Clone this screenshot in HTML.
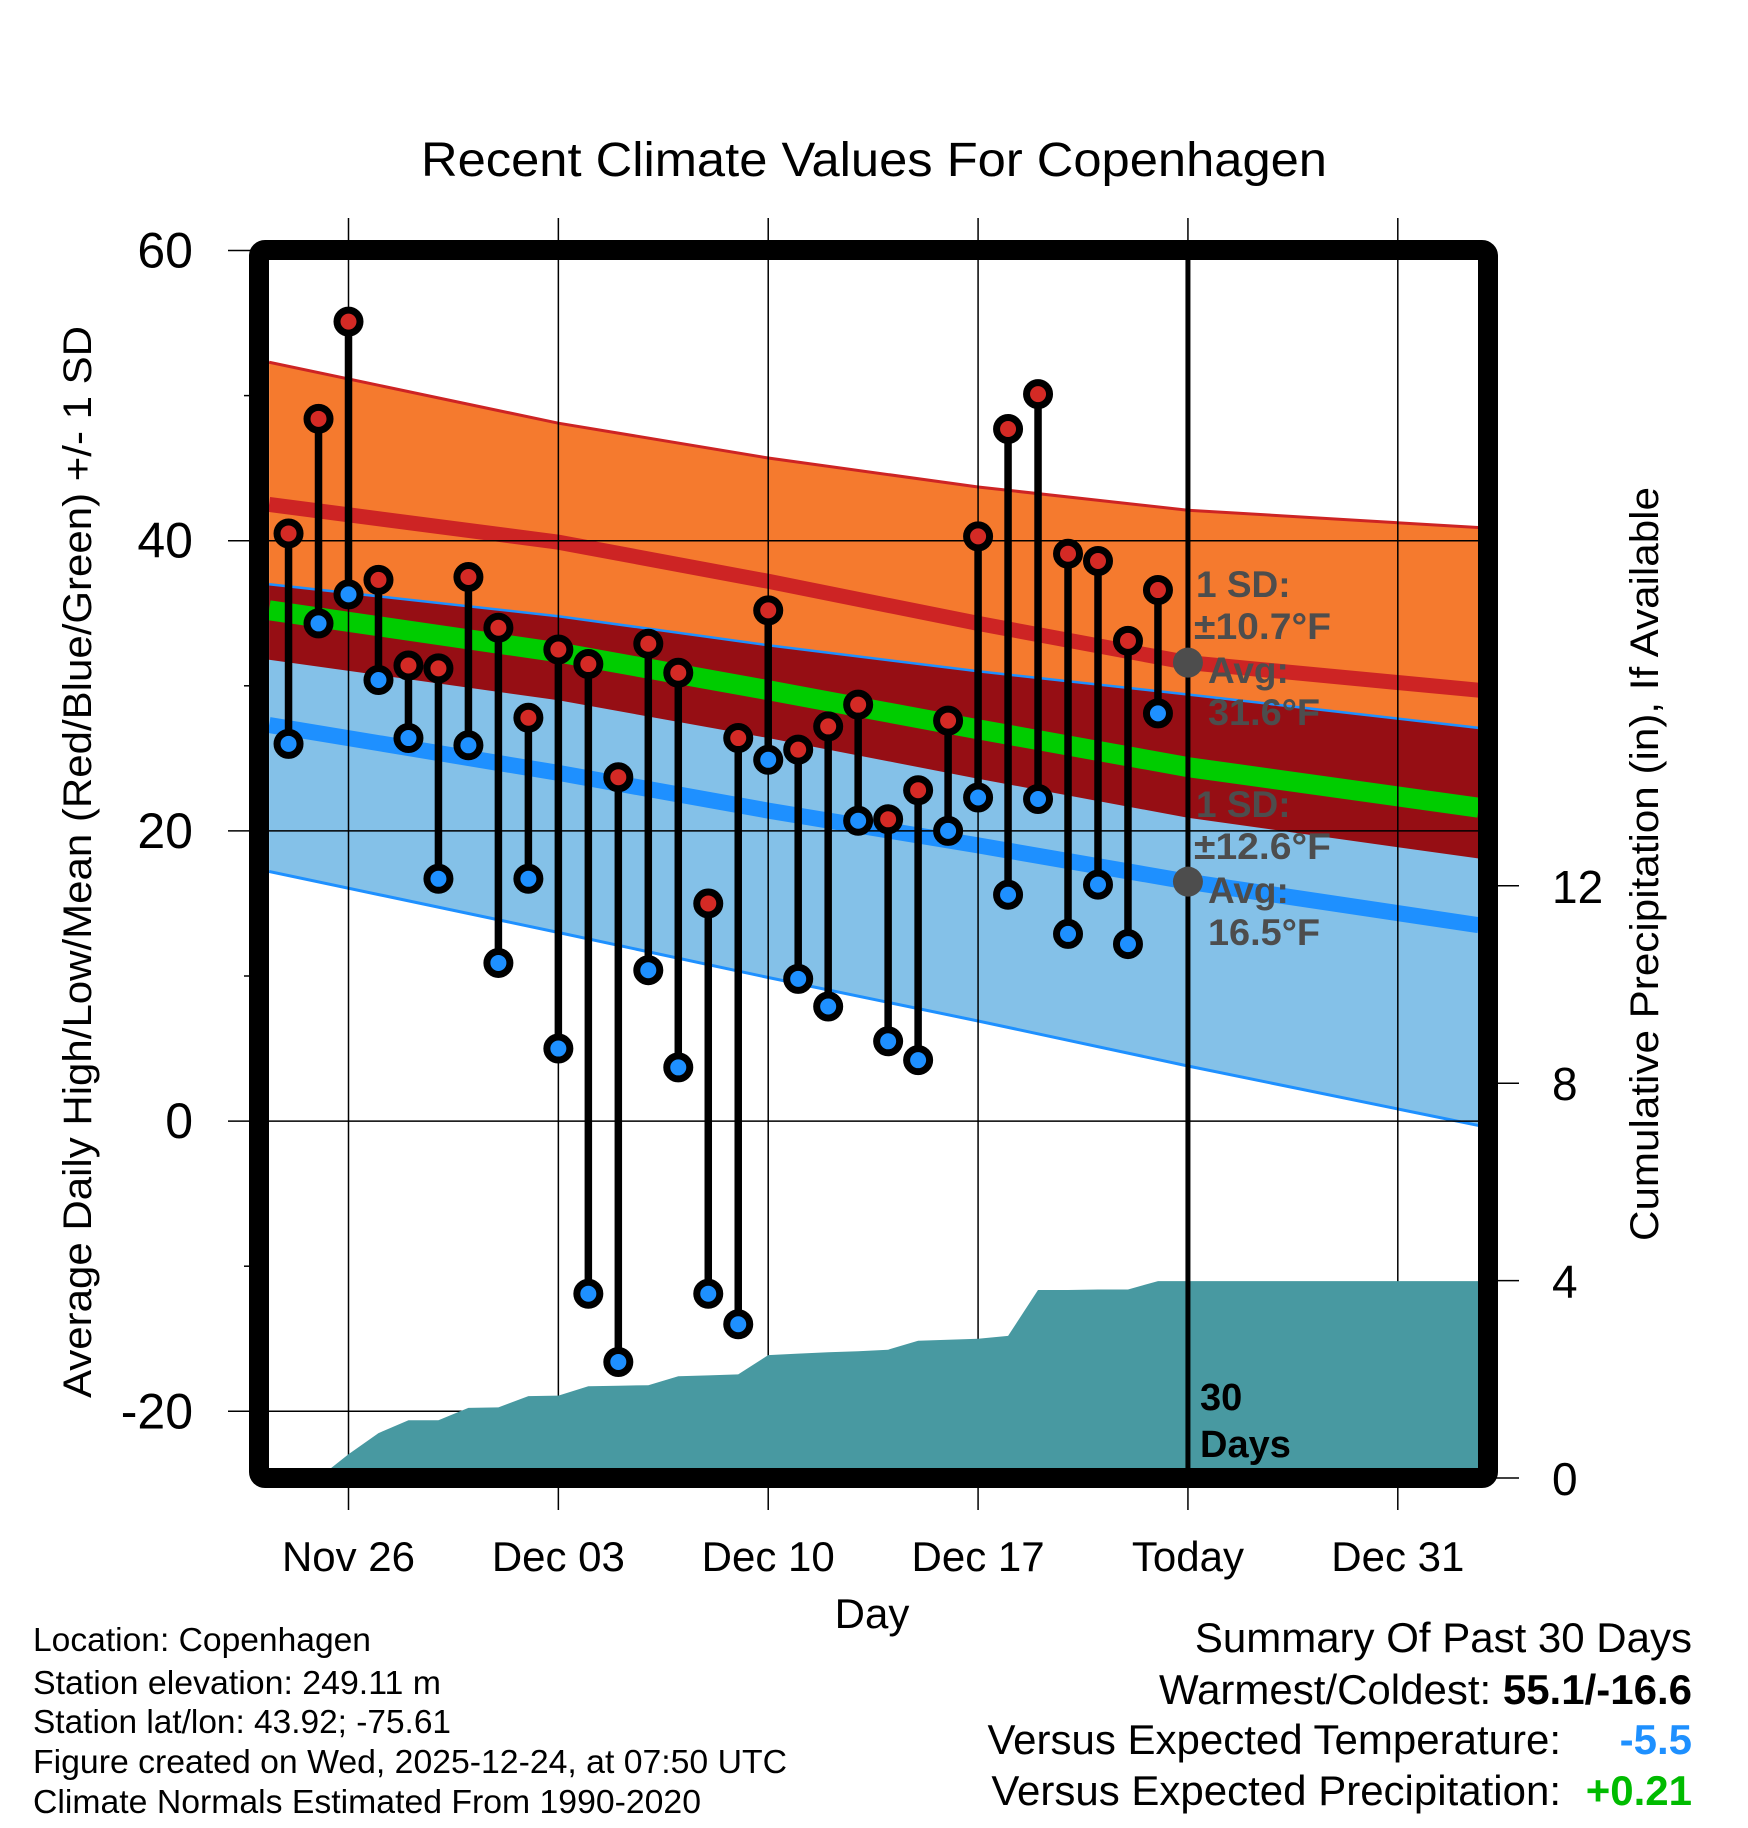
<!DOCTYPE html>
<html><head><meta charset="utf-8">
<style>
html,body{margin:0;padding:0;background:#fff;}
svg{display:block;font-family:"Liberation Sans",sans-serif;}
</style></head>
<body>
<svg id="chart" width="1748" height="1828" viewBox="0 0 1748 1828" xmlns="http://www.w3.org/2000/svg">
<defs><clipPath id="plotclip"><rect x="269" y="260" width="1209" height="1208"/></clipPath></defs>
<rect x="0" y="0" width="1748" height="1828" fill="#fff"/>
<g id="bands" clip-path="url(#plotclip)"></g>
<g id="grid"></g>
<g id="precip" clip-path="url(#plotclip)"></g>
<g id="today"></g>
<g id="marks"></g>
<rect x="259" y="250" width="1229" height="1228" fill="none" stroke="#000" stroke-width="20" rx="6"/>
<g id="axes"></g>
<text x="874" y="176" font-size="48" text-anchor="middle" textLength="906" lengthAdjust="spacingAndGlyphs">Recent Climate Values For Copenhagen</text>
<text x="872" y="1628" font-size="42" text-anchor="middle">Day</text>
<text transform="translate(91,862) rotate(-90)" font-size="40" text-anchor="middle" textLength="1072" lengthAdjust="spacingAndGlyphs">Average Daily High/Low/Mean (Red/Blue/Green) +/- 1 SD</text>
<text transform="translate(1658,864) rotate(-90)" font-size="40" text-anchor="middle" textLength="754" lengthAdjust="spacingAndGlyphs">Cumulative Precipitation (in), If Available</text>
<g font-size="33">
<text x="33" y="1651" textLength="338" lengthAdjust="spacingAndGlyphs">Location: Copenhagen</text>
<text x="33" y="1694" textLength="408" lengthAdjust="spacingAndGlyphs">Station elevation: 249.11 m</text>
<text x="33" y="1733" textLength="418" lengthAdjust="spacingAndGlyphs">Station lat/lon: 43.92; -75.61</text>
<text x="33" y="1773" textLength="754" lengthAdjust="spacingAndGlyphs">Figure created on Wed, 2025-12-24, at 07:50 UTC</text>
<text x="33" y="1813" textLength="668" lengthAdjust="spacingAndGlyphs">Climate Normals Estimated From 1990-2020</text>
</g>
<g font-size="42">
<text x="1692" y="1652" text-anchor="end">Summary Of Past 30 Days</text>
<text x="1692" y="1704" text-anchor="end">Warmest/Coldest: <tspan font-weight="bold">55.1/-16.6</tspan></text>
<text x="1561" y="1754" text-anchor="end">Versus Expected Temperature:</text>
<text x="1692" y="1754" text-anchor="end" font-weight="bold" fill="#1e90ff">-5.5</text>
<text x="1561" y="1805" text-anchor="end">Versus Expected Precipitation:</text>
<text x="1692" y="1805" text-anchor="end" font-weight="bold" fill="#00bb00">+0.21</text>
</g>
</svg>
<script>
// ---- data ----
const dayOffsets = [-2,-1,0,1,2,3,4,5,6,7,8,9,10,11,12,13,14,15,16,17,18,19,20,21,22,23,24,25,26,27];
const highs = [40.5,48.4,55.1,37.3,31.4,31.2,37.5,34.0,27.8,32.5,31.5,23.7,32.9,30.9,15.0,26.4,35.2,25.6,27.2,28.7,20.8,22.8,27.6,40.3,47.7,50.1,39.1,38.6,33.1,36.6];
const lows = [26.0,34.3,36.3,30.4,26.4,16.7,25.9,10.9,16.7,5.0,-11.9,-16.6,10.4,3.7,-11.9,-14.0,24.9,9.8,7.9,20.7,5.5,4.2,20.0,22.3,15.6,22.2,12.9,16.3,12.2,28.1];
const precipCum = [0,0,0.48,0.91,1.17,1.17,1.42,1.43,1.66,1.67,1.86,1.87,1.88,2.06,2.08,2.10,2.49,2.52,2.55,2.57,2.60,2.78,2.80,2.82,2.88,3.81,3.81,3.82,3.82,3.99];
const normalDays = [-2.65,7,14,21,28,37.7];
const highUpper = [52.3,48.1,45.7,43.7,42.1,40.9];
const highMean = [42.5,39.9,37.2,34.3,31.6,29.7];
const highLower = [31.8,29.0,26.4,23.6,20.9,18.1];
const lowUpper = [37.0,34.8,32.8,31.0,29.4,27.1];
const lowMean = [27.3,24.0,21.4,19.0,16.5,13.5];
const lowLower = [17.2,13.0,9.9,6.9,3.8,-0.3];
const meanLine = [35.2,32.3,29.7,27.0,24.4,21.6];
const xTickDays = [0,7,14,21,28,35];
const xTickLabels = ["Nov 26","Dec 03","Dec 10","Dec 17","Today","Dec 31"];
const yTicks = [60,40,20,0,-20];
const yMinor = [50,30,10,-10];
const pTicks = [0,4,8,12];
const todayDay = 28;

// ---- scales ----
function xs(d){return 348.5 + d*29.98;}
function yt(t){return 250.5 + (60-t)*14.51;}
function yp(p){return 1478 - p*49.35;}
const NS="http://www.w3.org/2000/svg";
function mk(tag,attrs,parent){const e=document.createElementNS(NS,tag);for(const k in attrs)e.setAttribute(k,attrs[k]);parent.appendChild(e);return e;}
function pts(days,vals){return days.map((d,i)=>xs(d).toFixed(1)+","+yt(vals[i]).toFixed(1));}
function band(upper,lower){return pts(normalDays,upper).concat(pts(normalDays,lower).reverse()).join(" ");}

const bands=document.getElementById('bands');
let e;
e=mk('polygon',{points:band(highUpper,highLower),fill:'#f57a2e'},bands);


e=mk('polygon',{points:band(lowUpper,lowLower),fill:'#84c1e8'},bands);


e=mk('polygon',{points:band(lowUpper,highLower),fill:'#960e14'},bands);


e=mk('polyline',{points:pts(normalDays,highUpper).join(" "),fill:'none',stroke:'#cd2424','stroke-width':3},bands);


e=mk('polyline',{points:pts(normalDays,lowUpper).join(" "),fill:'none',stroke:'#1e90ff','stroke-width':2.5},bands);


e=mk('polyline',{points:pts(normalDays,lowLower).join(" "),fill:'none',stroke:'#1e90ff','stroke-width':3},bands);


e=mk('polyline',{points:pts(normalDays,highMean).join(" "),fill:'none',stroke:'#cd2424','stroke-width':15},bands);


e=mk('polyline',{points:pts(normalDays,lowMean).join(" "),fill:'none',stroke:'#1e90ff','stroke-width':16},bands);


e=mk('polyline',{points:pts(normalDays,meanLine).join(" "),fill:'none',stroke:'#00cc00','stroke-width':20},bands);



// grid
const grid=document.getElementById('grid');
xTickDays.forEach(d=>{
  const g=mk('line',{x1:xs(d),x2:xs(d),y1:218,y2:1510,stroke:'#000','stroke-width':1.5},grid);
  
  
});
yTicks.forEach(t=>{
  const g=mk('line',{x1:228,x2:1478,y1:yt(t),y2:yt(t),stroke:'#000','stroke-width':1.5},grid);
  
  
});
yMinor.forEach(t=>{
  const g=mk('line',{x1:244,x2:259,y1:yt(t),y2:yt(t),stroke:'#000','stroke-width':1.5},grid);
  
  
});
pTicks.forEach(p=>{
  const g=mk('line',{x1:1488,x2:1519,y1:yp(p),y2:yp(p),stroke:'#000','stroke-width':1.5},grid);
  
  
});

// precipitation
const pg=document.getElementById('precip');
let pp=dayOffsets.map((d,i)=>xs(d).toFixed(1)+","+yp(precipCum[i]).toFixed(1));
pp.push(xs(40)+","+yp(precipCum[precipCum.length-1]));
pp.push(xs(40)+","+yp(0)); pp.push(xs(dayOffsets[0])+","+yp(0));
e=mk('polygon',{points:pp.join(" "),fill:'#4899a1'},pg);



// today line + annotations
const tg=document.getElementById('today');
e=mk('line',{x1:xs(todayDay),x2:xs(todayDay),y1:260,y2:1468,stroke:'#000','stroke-width':5},tg);


const hiAvg=31.6, loAvg=16.5;
e=mk('circle',{cx:xs(todayDay),cy:yt(hiAvg),r:15,fill:'#4d4d4d'},tg);


e=mk('circle',{cx:xs(todayDay),cy:yt(loAvg),r:15,fill:'#4d4d4d'},tg);


function ann(x,y,txt,name,len){const a={x:x,y:y,'font-size':37,'font-weight':'bold',fill:'#4d4d4d'};
  if(len){a.textLength=len;a.lengthAdjust='spacingAndGlyphs';}
  const t=mk('text',a,tg);t.textContent=txt;
  
  }
ann(1196,597,"1 SD:","high-sd-label");
ann(1194,639,"\u00b110.7\u00b0F","high-sd-value",137);
ann(1208,683,"Avg:","high-avg-label");
ann(1208,725,"31.6\u00b0F","high-avg-value",112);
ann(1196,817,"1 SD:","low-sd-label");
ann(1194,859,"\u00b112.6\u00b0F","low-sd-value",137);
ann(1208,903,"Avg:","low-avg-label");
ann(1208,945,"16.5\u00b0F","low-avg-value",112);
e=mk('text',{x:1200,y:1410,'font-size':38,'font-weight':'bold',fill:'#000'},tg);
e.textContent="30";


e=mk('text',{x:1200,y:1457,'font-size':38,'font-weight':'bold',fill:'#000'},tg);
e.textContent="Days";



// daily marks
const mg=document.getElementById('marks');
dayOffsets.forEach((d,i)=>{
  const x=xs(d);
  const s=mk('line',{x1:x,x2:x,y1:yt(highs[i]),y2:yt(lows[i]),stroke:'#000','stroke-width':7.5},mg);
  
  
});
dayOffsets.forEach((d,i)=>{
  const x=xs(d);
  const h=mk('circle',{cx:x,cy:yt(highs[i]),r:11.5,fill:'#d42a25',stroke:'#000','stroke-width':7},mg);
  
  
  const l=mk('circle',{cx:x,cy:yt(lows[i]),r:11.5,fill:'#1e90ff',stroke:'#000','stroke-width':7},mg);
  
  
});

// axes labels
const ag=document.getElementById('axes');
yTicks.forEach(t=>{
  const l=mk('text',{x:193,y:yt(t)+17,'font-size':50,'text-anchor':'end'},ag);
  l.textContent=String(t);
  
  
});
pTicks.forEach(p=>{
  const l=mk('text',{x:1552,y:yp(p)+17,'font-size':46},ag);
  l.textContent=String(p);
  
  
});
xTickDays.forEach((d,i)=>{
  const l=mk('text',{x:xs(d),y:1571,'font-size':42,'text-anchor':'middle'},ag);
  l.textContent=xTickLabels[i];
  
  
});
</script>
</body></html>
